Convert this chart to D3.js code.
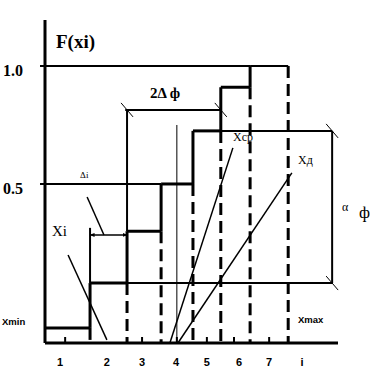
<!DOCTYPE html>
<html>
<head>
<meta charset="utf-8">
<script src="https://cdn.jsdelivr.net/npm/d3@7"></script>
<style>
body { margin: 0; background: #fff; }
text { fill: #000; }
</style>
</head>
<body>
<script>
// empirical distribution: bin edges (x units) and step heights F(xi)
var edges = [0, 1.23, 2.24, 3.17, 4.04, 4.8, 5.6, 6.64];
var steps = [-0.11, 0.08, 0.3, 0.5, 0.725, 0.91, 1.0];
var binLabels = ["1", "2", "3", "4", "5", "6", "7", "i"];
var labelPos = [0.41, 1.69, 2.65, 3.58, 4.42, 5.3, 6.12, 7.02];
var tickPos = [0.55, 2.65, 3.6, 4.42, 5.16, 6.12];
var yTicks = [1.0, 0.5];
var yTickLabels = ["1.0", "0.5"];

// annotation geometry in data units
var xRight = 7.84;          // right leg of the alpha-phi bracket
var bracketF = 0.814;       // level of the 2Δφ bracket
var arrowF = 0.284;         // level of the Xi double arrow
var thinX = 3.6, thinTop = 0.75;
var lineCp = [[3.41, -0.174], [5.13, 0.653]];
var lineD = [[3.63, -0.174], [6.74, 0.547]];
var pointerDi = [[1.15, 0.445], [1.61, 0.284]];
var pointerXi = [[0.63, 0.199], [1.69, -0.161]];

var w = 391, h = 388;
var x = d3.scaleLinear().domain([0, 8]).range([45, 338]);
var y = d3.scaleLinear().domain([-0.174, 1.195]).range([343, 20]);
var yBase = y.domain()[0];

var svg = d3.select("body")
    .append("svg")
    .attr("width", w)
    .attr("height", h);

svg.append("defs").append("marker")
    .attr("id", "arr")
    .attr("viewBox", "0 0 10 10")
    .attr("refX", 9).attr("refY", 5)
    .attr("markerWidth", 5).attr("markerHeight", 5)
    .attr("markerUnits", "userSpaceOnUse")
    .attr("orient", "auto-start-reverse")
    .append("path")
    .attr("d", "M0,1 L10,5 L0,9 z")
    .attr("fill", "#000");

function seg(x1, f1, x2, f2, sw, dash) {
    var l = svg.append("line")
        .attr("x1", x(x1)).attr("y1", y(f1))
        .attr("x2", x(x2)).attr("y2", y(f2))
        .attr("stroke", "#000")
        .attr("stroke-width", sw);
    if (dash) l.attr("stroke-dasharray", dash);
    return l;
}
function slash(xv, fv) {
    svg.append("line")
        .attr("x1", x(xv) - 6).attr("y1", y(fv) - 7)
        .attr("x2", x(xv) + 6).attr("y2", y(fv) + 7)
        .attr("stroke", "#000").attr("stroke-width", 1);
}

// axes
seg(0, y.domain()[1], 0, yBase, 3);
seg(0, yBase, 8, yBase, 3);
tickPos.forEach(function (t) {
    svg.append("line")
        .attr("x1", x(t)).attr("x2", x(t))
        .attr("y1", y(yBase)).attr("y2", y(yBase) - 6)
        .attr("stroke", "#000").attr("stroke-width", 2);
});

// reference levels 1.0 and 0.5, drawn up to the step that reaches them
svg.selectAll("line.ref")
    .data(yTicks)
    .enter()
    .append("line")
    .attr("class", "ref")
    .attr("x1", x(0) - 5)
    .attr("x2", function (d) { return x(edges[steps.indexOf(d)]); })
    .attr("y1", function (d) { return y(d); })
    .attr("y2", function (d) { return y(d); })
    .attr("stroke", "#000")
    .attr("stroke-width", 2);

// dashed verticals under each edge
for (var i = 1; i < edges.length; i++) {
    seg(edges[i], steps[i - 1], edges[i], yBase, 3, "12,6");
}

// staircase
for (var j = 0; j < steps.length; j++) {
    seg(edges[j], steps[j], edges[j + 1], steps[j], j === steps.length - 1 ? 2 : 3);
    if (j < steps.length - 1) seg(edges[j + 1], steps[j], edges[j + 1], steps[j + 1], 3);
}

// alpha-phi bracket
seg(edges[4], steps[4], xRight, steps[4], 2);
seg(edges[1], steps[1], xRight, steps[1], 2);
seg(xRight, steps[4], xRight, steps[1], 2);
slash(xRight, steps[4]);
slash(xRight, steps[1]);

// 2Δφ bracket
seg(edges[2] - 0.05, bracketF, edges[5], bracketF, 2);
seg(edges[2], bracketF, edges[2], steps[2], 2);
slash(edges[2], bracketF);
slash(edges[5], bracketF);

// thin vertical, diagonals, pointers
seg(thinX, thinTop, thinX, yBase, 1);
[lineCp, lineD, pointerDi, pointerXi].forEach(function (p) {
    seg(p[0][0], p[0][1], p[1][0], p[1][1], 1.5);
});

// Xi double arrow
seg(edges[1], arrowF + 0.03, edges[1], steps[1], 2);
seg(edges[1], arrowF, edges[2], arrowF, 1.5)
    .attr("marker-start", "url(#arr)")
    .attr("marker-end", "url(#arr)");

// texts
function label(t, px, py, size, family, weight) {
    return svg.append("text")
        .attr("x", px).attr("y", py)
        .attr("font-family", family)
        .attr("font-size", size + "px")
        .attr("font-weight", weight || "normal")
        .text(t);
}
var serif = "'Liberation Serif', 'DejaVu Serif', serif";
var sans = "'Liberation Sans', Arial, sans-serif";

yTicks.forEach(function (d, k) {
    label(yTickLabels[k], 3, y(d) + 10, 16, serif, "bold");
});
label("F(xi)", 56, 48, 19, serif, "bold");
label("2\u0394 \u0444", 150, 98, 15, serif, "bold");
label("\u0394i", x(pointerDi[0][0]) - 7, y(0.5) - 6, 9, serif);
label("Xi", 52, 236, 15, serif);
label("Xmin", 2, 325, 9.5, sans, "bold");
label("Xmax", 298, 323, 9.5, sans, "bold");
label("X\u0441\u0440", 233, 141, 12, serif);
label("X\u0434", 298, 164, 12, serif);
label("\u03b1", 342, 211, 12, serif);
label("\u0444", 359, 218, 17, serif);

svg.selectAll("text.bin")
    .data(binLabels)
    .enter()
    .append("text")
    .attr("class", "bin")
    .attr("x", function (d, k) { return x(labelPos[k]); })
    .attr("y", 366)
    .attr("text-anchor", "middle")
    .attr("font-family", sans)
    .attr("font-size", "11px")
    .attr("font-weight", "bold")
    .text(function (d) { return d; });
</script>
</body>
</html>
